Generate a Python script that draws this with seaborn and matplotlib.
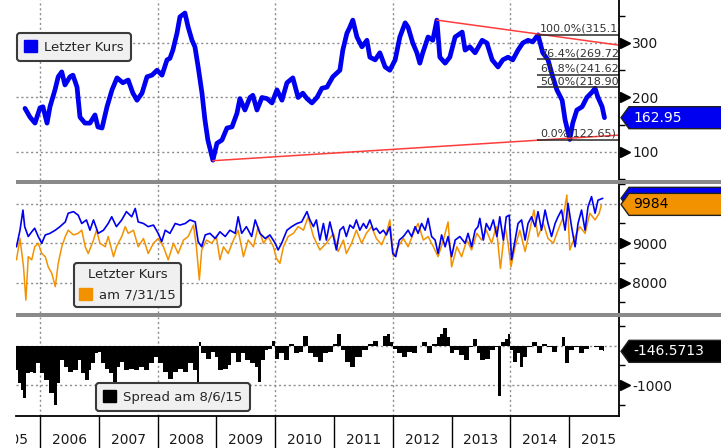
import numpy as np
import pandas as pd
import seaborn as sns
import matplotlib.pyplot as plt
import matplotlib.transforms as mtransforms
from matplotlib.patches import Polygon, Rectangle, Patch

# ---------------- Daten ----------------
# oberes Panel: Letzter Kurs (Zeit in Dezimaljahren)
kurs_t = [2005.745, 2005.83, 2005.915, 2006.0, 2006.05, 2006.12, 2006.17, 2006.255, 2006.31, 2006.37,
          2006.425, 2006.51, 2006.56, 2006.63, 2006.68, 2006.765, 2006.85, 2006.935, 2006.985, 2007.055,
          2007.14, 2007.225, 2007.31, 2007.41, 2007.50, 2007.58, 2007.65, 2007.735, 2007.82, 2007.905,
          2007.99, 2008.075, 2008.16, 2008.21, 2008.26, 2008.33, 2008.38, 2008.465, 2008.52, 2008.585,
          2008.635, 2008.69, 2008.755, 2008.805, 2008.855, 2008.94, 2009.01, 2009.095, 2009.18, 2009.265,
          2009.35, 2009.40, 2009.485, 2009.57, 2009.62, 2009.69, 2009.775, 2009.86, 2009.945, 2010.03,
          2010.115, 2010.20, 2010.30, 2010.39, 2010.47, 2010.54, 2010.625, 2010.71, 2010.795, 2010.88,
          2010.98, 2011.10, 2011.15, 2011.22, 2011.27, 2011.32, 2011.39, 2011.475, 2011.56, 2011.61,
          2011.70, 2011.78, 2011.87, 2011.95, 2012.04, 2012.12, 2012.21, 2012.26, 2012.34, 2012.41,
          2012.46, 2012.51, 2012.60, 2012.68, 2012.75, 2012.80, 2012.89, 2012.97, 2013.06, 2013.18,
          2013.23, 2013.31, 2013.40, 2013.52, 2013.60, 2013.69, 2013.79, 2013.87, 2013.96, 2014.04,
          2014.13, 2014.21, 2014.30, 2014.38, 2014.47, 2014.55, 2014.64, 2014.72, 2014.79, 2014.88,
          2014.93, 2015.01, 2015.06, 2015.13, 2015.22, 2015.30, 2015.39, 2015.44, 2015.49, 2015.56,
          2015.60]
kurs = [180, 164, 153, 181, 183, 153, 183, 214, 238, 247,
        223, 238, 241, 219, 164, 153, 153, 168, 146, 144,
        183, 214, 236, 227, 232, 208, 195, 208, 238, 241,
        250, 241, 269, 272, 287, 318, 348, 355, 329, 305,
        293, 256, 208, 159, 122, 85, 116, 122, 144, 146,
        171, 198, 177, 200, 204, 177, 200, 198, 190, 214,
        195, 227, 236, 200, 208, 198, 190, 200, 217, 219,
        238, 250, 287, 318, 329, 342, 311, 293, 305, 274,
        269, 282, 256, 250, 269, 311, 337, 329, 300, 282,
        263, 282, 311, 305, 342, 274, 263, 274, 311, 320,
        287, 293, 282, 305, 300, 269, 256, 269, 274, 269,
        287, 300, 305, 302, 315, 282, 269, 238, 214, 195,
        159, 123, 153, 177, 183, 200, 210, 217, 200, 183,
        162.95]

# Fibonacci-Niveaus und Trendlinien
fib_werte = [315.15, 269.72, 241.62, 218.90, 122.65]
fib_texte = ['100.0%(315.15)', '76.4%(269.72)', '61.8%(241.62)', '50.0%(218.90)', '0.0%(122.65)']
trend_unten_t, trend_unten = [2008.94, 2015.85], [84, 131]
trend_oben_t, trend_oben = [2012.75, 2015.85], [342, 296]

# mittleres Panel: blau und orange
blau_t = [2005.60, 2005.66, 2005.71, 2005.74, 2005.80, 2005.86, 2005.91, 2005.97, 2006.03, 2006.09,
          2006.17, 2006.26, 2006.34, 2006.43, 2006.48, 2006.57, 2006.65, 2006.71, 2006.79, 2006.85,
          2006.91, 2006.99, 2007.08, 2007.16, 2007.22, 2007.30, 2007.39, 2007.47, 2007.56, 2007.62,
          2007.67, 2007.76, 2007.84, 2007.93, 2008.01, 2008.07, 2008.13, 2008.21, 2008.30, 2008.38,
          2008.47, 2008.55, 2008.64, 2008.69, 2008.75, 2008.81, 2008.89, 2008.98, 2009.06, 2009.15,
          2009.23, 2009.32, 2009.37, 2009.43, 2009.51, 2009.60, 2009.66, 2009.74, 2009.83, 2009.91,
          2010.00, 2010.05, 2010.11, 2010.20, 2010.28, 2010.37, 2010.45, 2010.54, 2010.59, 2010.65,
          2010.70, 2010.76, 2010.82, 2010.87, 2010.93, 2010.99, 2011.04, 2011.10, 2011.16, 2011.21,
          2011.27, 2011.33, 2011.38, 2011.44, 2011.50, 2011.55, 2011.61, 2011.67, 2011.72, 2011.78,
          2011.84, 2011.89, 2011.95, 2012.00, 2012.05, 2012.11, 2012.18, 2012.26, 2012.32, 2012.38,
          2012.43, 2012.49, 2012.55, 2012.60, 2012.66, 2012.72, 2012.77, 2012.83, 2012.89, 2012.94,
          2013.00, 2013.06, 2013.14, 2013.23, 2013.28, 2013.34, 2013.40, 2013.45, 2013.48, 2013.54,
          2013.59, 2013.65, 2013.71, 2013.77, 2013.82, 2013.88, 2013.93, 2013.98, 2014.02, 2014.08,
          2014.13, 2014.19, 2014.25, 2014.30, 2014.36, 2014.42, 2014.47, 2014.53, 2014.59, 2014.64,
          2014.70, 2014.76, 2014.81, 2014.87, 2014.93, 2014.98, 2015.04, 2015.10, 2015.15, 2015.21,
          2015.27, 2015.32, 2015.38, 2015.44, 2015.49, 2015.57]
blau = [8910, 9330, 9840, 9420, 9170, 9290, 9380, 9170, 9000, 9210,
        9250, 9330, 9420, 9540, 9760, 9800, 9710, 9500, 9590, 9330,
        9590, 9250, 9330, 9500, 9670, 9420, 9590, 9800, 9670, 9880,
        9540, 9500, 9420, 9460, 9250, 9040, 9330, 9250, 9500, 9460,
        9500, 9590, 9540, 9040, 8910, 9210, 9250, 9120, 9290, 9170,
        9330, 9250, 9670, 9250, 9420, 9170, 9590, 9250, 9120, 9210,
        9000, 8830, 9000, 9330, 9420, 9500, 9540, 9800, 9590, 9420,
        9590, 9080, 9500, 9080, 9540, 9170, 8830, 9330, 9420, 9170,
        9460, 9380, 9590, 9330, 9500, 9380, 9590, 9330, 9380, 9250,
        9330, 9210, 9420, 8740, 8660, 9080, 9170, 9330, 9170, 9420,
        9250, 9500, 9330, 9630, 9170, 9080, 8740, 9210, 8910, 9170,
        8660, 9080, 9170, 9000, 9250, 8910, 9330, 9420, 9630, 9080,
        9500, 9330, 9590, 9170, 9670, 9080, 9670, 9710, 8580, 9080,
        9500, 9590, 9080, 9500, 9670, 9420, 9800, 9330, 9840, 9500,
        9170, 9500, 9670, 9840, 9330, 10010, 9420, 8910, 9500, 9840,
        9330, 9920, 10180, 9760, 10090, 10137]

orange_t = [2005.60, 2005.66, 2005.72, 2005.76, 2005.80, 2005.86, 2005.91, 2005.97, 2006.03, 2006.09,
            2006.14, 2006.20, 2006.26, 2006.31, 2006.37, 2006.43, 2006.48, 2006.57, 2006.65, 2006.71,
            2006.77, 2006.82, 2006.91, 2006.96, 2007.02, 2007.11, 2007.16, 2007.25, 2007.30, 2007.39,
            2007.45, 2007.50, 2007.59, 2007.67, 2007.76, 2007.84, 2007.93, 2008.01, 2008.10, 2008.18,
            2008.27, 2008.35, 2008.44, 2008.52, 2008.61, 2008.66, 2008.71, 2008.75, 2008.83, 2008.92,
            2009.00, 2009.06, 2009.12, 2009.20, 2009.29, 2009.37, 2009.46, 2009.54, 2009.63, 2009.71,
            2009.80, 2009.88, 2009.97, 2010.02, 2010.08, 2010.14, 2010.22, 2010.31, 2010.39, 2010.48,
            2010.56, 2010.65, 2010.76, 2010.87, 2010.99, 2011.07, 2011.16, 2011.21, 2011.30, 2011.38,
            2011.47, 2011.55, 2011.64, 2011.72, 2011.81, 2011.89, 2011.95, 2012.01, 2012.09, 2012.18,
            2012.26, 2012.35, 2012.43, 2012.52, 2012.60, 2012.69, 2012.77, 2012.86, 2012.94, 2013.00,
            2013.09, 2013.17, 2013.26, 2013.34, 2013.43, 2013.51, 2013.59, 2013.68, 2013.76, 2013.83,
            2013.91, 2013.96, 2014.01, 2014.08, 2014.16, 2014.25, 2014.33, 2014.40, 2014.47, 2014.56,
            2014.64, 2014.73, 2014.81, 2014.90, 2014.96, 2015.01, 2015.10, 2015.18, 2015.27, 2015.35,
            2015.44, 2015.51, 2015.55]
orange = [8580, 9120, 8400, 7560, 8660, 8580, 8910, 9000, 8740, 8660,
          8400, 8240, 7900, 8490, 8910, 9170, 9330, 9210, 9250, 9330,
          8910, 8740, 9080, 9330, 9000, 8910, 9170, 8660, 8910, 9170,
          9420, 9250, 9330, 8910, 9120, 8740, 9000, 9120, 8910, 8580,
          9000, 8740, 9080, 9170, 9460, 8910, 8070, 8830, 9080, 9000,
          9170, 8580, 8910, 8740, 9080, 9330, 8660, 9080, 8910, 9420,
          9000, 9170, 8910, 8620, 8490, 8910, 9170, 9250, 9420, 9330,
          9670, 9170, 8830, 9000, 9250, 8790, 9080, 8740, 9000, 9330,
          9000, 9250, 9420, 9120, 8960, 9250, 9590, 8660, 8910, 9120,
          8910, 9250, 9500, 9080, 9170, 8910, 8660, 9080, 9540, 8400,
          8910, 8660, 9080, 8830, 9250, 9080, 9330, 9000, 9420, 8360,
          9420, 9000, 8400, 8910, 9330, 8790, 9330, 9840, 9170, 9500,
          9120, 9000, 9330, 9670, 10220, 8830, 9170, 9420, 9250, 9760,
          9590, 9760, 9984]

# unteres Panel: Spread
spread_t = [2005.60, 2005.66, 2005.69, 2005.74, 2005.80, 2005.86, 2005.91, 2005.97, 2006.03, 2006.12,
            2006.20, 2006.26, 2006.31, 2006.37, 2006.43, 2006.51, 2006.60, 2006.68, 2006.73, 2006.80,
            2006.85, 2006.90, 2006.97, 2007.02, 2007.07, 2007.14, 2007.22, 2007.28, 2007.33, 2007.39,
            2007.48, 2007.56, 2007.65, 2007.73, 2007.82, 2007.90, 2007.99, 2008.04, 2008.13, 2008.21,
            2008.30, 2008.38, 2008.47, 2008.55, 2008.64, 2008.70, 2008.72, 2008.77, 2008.86, 2008.94,
            2009.01, 2009.06, 2009.15, 2009.23, 2009.28, 2009.37, 2009.45, 2009.54, 2009.62, 2009.69,
            2009.74, 2009.79, 2009.86, 2009.91, 2009.98, 2010.03, 2010.11, 2010.20, 2010.28, 2010.37,
            2010.45, 2010.51, 2010.59, 2010.68, 2010.76, 2010.85, 2010.93, 2011.02, 2011.08, 2011.15,
            2011.24, 2011.32, 2011.41, 2011.53, 2011.61, 2011.70, 2011.78, 2011.87, 2011.92, 2011.98,
            2012.04, 2012.12, 2012.21, 2012.29, 2012.38, 2012.46, 2012.55, 2012.63, 2012.72, 2012.77,
            2012.83, 2012.89, 2012.94, 2013.00, 2013.09, 2013.17, 2013.26, 2013.34, 2013.40, 2013.45,
            2013.53, 2013.62, 2013.70, 2013.77, 2013.82, 2013.87, 2013.94, 2013.97, 2014.02, 2014.08,
            2014.13, 2014.19, 2014.25, 2014.33, 2014.42, 2014.50, 2014.59, 2014.67, 2014.76, 2014.84,
            2014.91, 2014.96, 2015.04, 2015.13, 2015.21, 2015.30, 2015.38, 2015.47, 2015.56, 2015.60]
spread = [-620, -940, -1110, -1310, -700, -660, -700, -450, -700, -870,
          -1200, -1490, -940, -370, -540, -660, -620, -370, -700, -870,
          -620, -450, -200, -170, -450, -580, -700, -910, -540, -410,
          -620, -580, -620, -540, -620, -450, -290, -450, -660, -830,
          -660, -580, -660, -450, -620, -910, 80, -200, -330, -170,
          -290, -620, -580, -500, -200, -410, -200, -370, -450, -540,
          -910, -370, -120, -80, 120, -330, -200, -370, 40, -200,
          -170, 250, -200, -290, -410, -200, -170, 40, 290, -120,
          -410, -540, -290, -120, 40, 120, 0, 250, 290, 80,
          -80, -200, -290, -170, -200, 0, 80, -200, 40, 210,
          290, 450, 210, -200, -120, -250, -370, -40, 170, -200,
          -370, -330, -120, -40, -1280, 80, 170, 290, -120, -410,
          -200, -540, -290, -40, 80, -200, 40, -40, -170, 0,
          210, -450, -120, -40, -200, -80, 0, -40, -120, -146.5713]

jahre = list(range(2005, 2016))

BLAU = '#0000f0'
ORANGE = '#f39200'
GRID = '#8c8c8c'
TXT = '#1a1a1a'

sns.set_style("white")
plt.rcParams['font.family'] = ['DejaVu Sans']

W, H = 721, 448
fig = plt.figure(figsize=(W / 100, H / 100), dpi=100)
X0, X1 = 2005.592, 2015.847


def px_axes(x0, y0, x1, y1):
    return fig.add_axes([x0 / W, 1 - y1 / H, (x1 - x0) / W, (y1 - y0) / H])


def style(ax, ylim, major, labels, minor):
    ax.set_xlim(X0, X1)
    ax.set_ylim(*ylim)
    ax.set_xticks([2006, 2008, 2010, 2012, 2014])
    ax.set_xticklabels([])
    ax.set_yticks(major)
    ax.set_yticklabels(labels)
    ax.set_yticks(minor, minor=True)
    ax.yaxis.tick_right()
    ax.tick_params(axis='x', length=0)
    ax.tick_params(axis='y', which='major', length=0, pad=9.5, labelsize=10, labelcolor=TXT)
    ax.tick_params(axis='y', which='minor', length=4.5, width=1, color='black', direction='out')
    ax.grid(True, which='major', color=GRID, ls=(0, (1.5, 2)), lw=1.0)
    for s in ['left', 'top', 'bottom']:
        ax.spines[s].set_visible(False)
    ax.spines['right'].set_color('black')
    ax.spines['right'].set_linewidth(1.3)
    ax.set_xlabel('')
    ax.set_ylabel('')
    # Pfeil-Markierungen an den beschrifteten Ticks
    pfeile = [m for m, l in zip(major, labels) if l]
    tr = mtransforms.blended_transform_factory(ax.transAxes, ax.transData) + \
        mtransforms.ScaledTranslation(0.055, 0, fig.dpi_scale_trans)
    ax.plot([1.0] * len(pfeile), pfeile, ls='none', marker='>', ms=6.5, color='black',
            transform=tr, clip_on=False)


def tag(ax, value, text, fc, tc):
    yc = ax.transData.transform((X0, value))[1]
    h = 11
    pts = np.array([(621, yc), (629, yc + h), (W + 5, yc + h), (W + 5, yc - h), (629, yc - h)])
    pts = pts / np.array([W, H])
    fig.add_artist(Polygon(pts, closed=True, transform=fig.transFigure, fc=fc, ec='#202020', lw=1))
    if text:
        fig.text(633 / W, yc / H, text, color=tc, fontsize=10, va='center', ha='left')


ax1 = px_axes(16, 0, 619, 180)
ax2 = px_axes(16, 184, 619, 313)
ax3 = px_axes(16, 317, 619, 416)
axd = px_axes(16, 416, 619, 448)

# ---- oberes Panel ----
sns.lineplot(x=kurs_t, y=kurs, ax=ax1, color=BLAU, lw=3.4, estimator=None, sort=False)
ax1.plot(trend_unten_t, trend_unten, color='#ff3c3c', lw=1.1)
ax1.plot(trend_oben_t, trend_oben, color='#ff3c3c', lw=1.1)
ax1.hlines(fib_werte, 2014.45, X1, color='#2a2a2a', lw=1.1)
for v, s in zip(fib_werte, fib_texte):
    ax1.text(2014.50, v + 2, s, fontsize=8, color='#333333', va='bottom', ha='left', clip_on=True)
style(ax1, (48.6, 378.9), [100, 200, 300], ['100', '200', '300'], [50, 150, 250, 350])
leg1 = ax1.legend(handles=[Patch(facecolor=BLAU, edgecolor=BLAU)], labels=['Letzter Kurs'],
                  loc='upper left', bbox_to_anchor=(17 / W, 1 - 33 / H), bbox_transform=fig.transFigure,
                  frameon=True, fancybox=True, facecolor='#f0f0f0', edgecolor='#3a3a3a', framealpha=1,
                  fontsize=9.5, handlelength=1.0, handleheight=1.0, handletextpad=0.5,
                  borderpad=0.55, borderaxespad=0)
leg1.get_frame().set_linewidth(1.5)

# ---- mittleres Panel ----
sns.lineplot(x=orange_t, y=orange, ax=ax2, color=ORANGE, lw=1.1, estimator=None, sort=False)
sns.lineplot(x=blau_t, y=blau, ax=ax2, color=BLAU, lw=1.2, estimator=None, sort=False)
style(ax2, (7233, 10499), [8000, 9000, 10000], ['8000', '9000', ''], [7500, 8500, 9500, 10500])
leg2 = ax2.legend(handles=[Patch(facecolor=ORANGE, edgecolor=ORANGE)], labels=['am 7/31/15'],
                  title='Letzter Kurs', title_fontsize=9.5,
                  loc='upper left', bbox_to_anchor=(74 / W, 1 - 263 / H), bbox_transform=fig.transFigure,
                  frameon=True, fancybox=True, facecolor='#f0f0f0', edgecolor='#3a3a3a', framealpha=1,
                  fontsize=9.5, handlelength=1.0, handleheight=1.0, handletextpad=0.5,
                  borderpad=0.4, borderaxespad=0)
leg2.get_frame().set_linewidth(1.5)

# ---- unteres Panel ----
ax3.fill_between(spread_t, spread, 0, step='mid', color='black', lw=0)
style(ax3, (-1771, 716), [-1000, 0], ['-1000', ''], [-1500, -500, 500])
ax3.spines['bottom'].set_visible(True)
ax3.spines['bottom'].set_color('black')
ax3.spines['bottom'].set_linewidth(1.3)
leg3 = ax3.legend(handles=[Patch(facecolor='black', edgecolor='black')], labels=['Spread am 8/6/15'],
                  loc='upper left', bbox_to_anchor=(96 / W, 1 - 383 / H), bbox_transform=fig.transFigure,
                  frameon=True, fancybox=True, facecolor='#f0f0f0', edgecolor='#3a3a3a', framealpha=1,
                  fontsize=9.5, handlelength=1.0, handleheight=1.0, handletextpad=0.5,
                  borderpad=0.55, borderaxespad=0)
leg3.get_frame().set_linewidth(1.5)

# ---- Jahresleiste ----
axd.set_xlim(X0, X1)
axd.set_ylim(0, 1)
axd.axis('off')
axd.vlines(jahre[1:], 0, 1, color='black', lw=1)
for j in jahre:
    axd.text(j + 0.5, 0.47, str(j), ha='center', va='top', fontsize=10, color=TXT, clip_on=True)

# Trennbalken
for y0 in (180, 313):
    fig.add_artist(Rectangle((16 / W, 1 - (y0 + 4) / H), (W - 16) / W, 4 / H,
                             transform=fig.transFigure, color='#8a8a8a', lw=0))

# Wertmarken rechts
tag(ax1, kurs[-1], '162.95', BLAU, 'white')
tag(ax2, blau[-1], '', BLAU, 'white')
tag(ax2, orange[-1], '9984', ORANGE, 'black')
tag(ax3, spread[-1], '-146.5713', 'black', 'white')

fig.savefig('out.png', dpi=100)
